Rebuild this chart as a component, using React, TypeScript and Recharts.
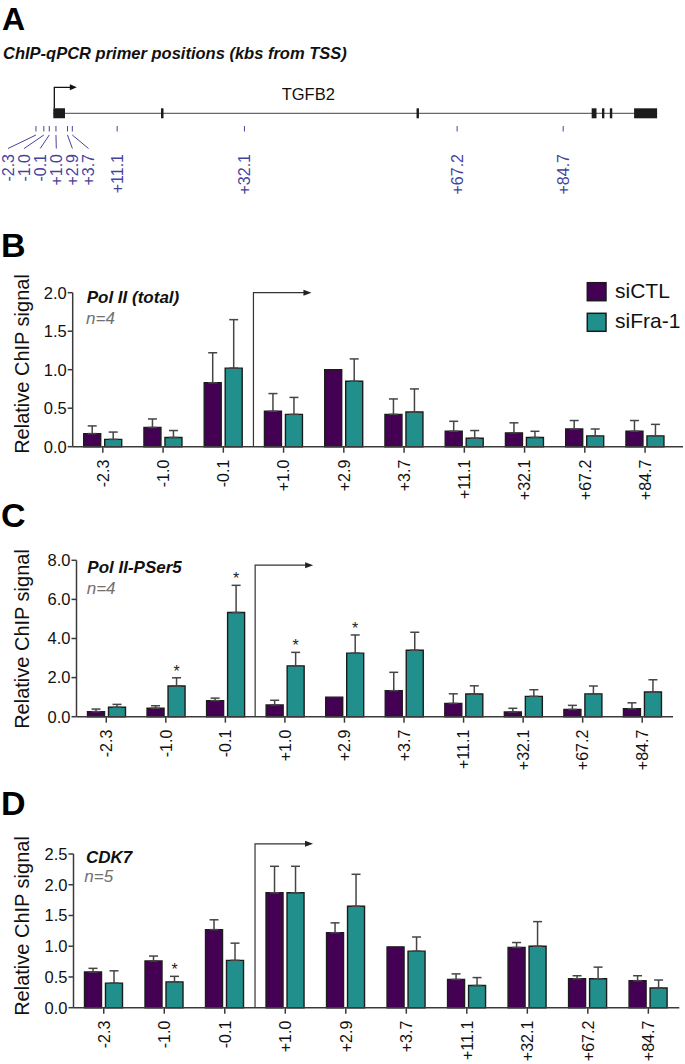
import React from 'react';
import {
  BarChart,
  Bar,
  XAxis,
  YAxis,
  ErrorBar,
  ReferenceLine,
  ReferenceArea,
  ScatterChart,
  Scatter,
  Rectangle,
} from 'recharts';

// ---------- data ----------
const CATEGORIES = ['-2.3', '-1.0', '-0.1', '+1.0', '+2.9', '+3.7', '+11.1', '+32.1', '+67.2', '+84.7'];
const SERIES_NAMES = ['siCTL', 'siFra-1'];
const SERIES_COLORS = ['#440154', '#21908d'];
const TSS_CATEGORY = '+1.0';

// Panel B: Pol II (total), n=4
const POL2_CTL = [0.17, 0.25, 0.83, 0.46, 1.0, 0.42, 0.2, 0.18, 0.23, 0.2];
const POL2_CTL_SD = [0.1, 0.11, 0.39, 0.23, null, 0.2, 0.13, 0.13, 0.11, 0.14];
const POL2_FRA = [0.095, 0.12, 1.02, 0.42, 0.85, 0.45, 0.11, 0.12, 0.14, 0.14];
const POL2_FRA_SD = [0.095, 0.09, 0.63, 0.22, 0.29, 0.3, 0.1, 0.08, 0.09, 0.15];
const POL2_SIG = [false, false, false, false, false, false, false, false, false, false];
const POL2_TICKS = [0, 0.5, 1.0, 1.5, 2.0];

// Panel C: Pol II-PSer5, n=4
const PSER5_CTL = [0.26, 0.43, 0.82, 0.6, 1.0, 1.33, 0.68, 0.24, 0.37, 0.41];
const PSER5_CTL_SD = [0.13, 0.13, 0.13, 0.24, null, 0.94, 0.49, 0.19, 0.21, 0.3];
const PSER5_FRA = [0.48, 1.57, 5.33, 2.6, 3.25, 3.4, 1.16, 1.04, 1.17, 1.26];
const PSER5_FRA_SD = [0.15, 0.42, 1.39, 0.69, 0.93, 0.92, 0.42, 0.34, 0.4, 0.63];
const PSER5_SIG = [false, true, true, true, true, false, false, false, false, false];
const PSER5_TICKS = [0, 2, 4, 6, 8];

// Panel D: CDK7, n=5
const CDK7_CTL = [0.58, 0.76, 1.27, 1.87, 1.22, 0.99, 0.46, 0.98, 0.47, 0.44];
const CDK7_CTL_SD = [0.06, 0.08, 0.16, 0.43, 0.16, null, 0.09, 0.08, 0.05, 0.08];
const CDK7_FRA = [0.4, 0.42, 0.77, 1.87, 1.65, 0.92, 0.36, 1.0, 0.47, 0.32];
const CDK7_FRA_SD = [0.2, 0.09, 0.28, 0.43, 0.52, 0.23, 0.13, 0.4, 0.19, 0.13];
const CDK7_SIG = [false, true, false, false, false, false, false, false, false, false];
const CDK7_TICKS = [0, 0.5, 1.0, 1.5, 2.0, 2.5];

// Panel A: gene diagram (kb from TSS)
const GENE_NAME = 'TGFB2';
const PRIMER_KB = [-2.3, -1.0, -0.1, 1.0, 2.9, 3.7, 11.1, 32.1, 67.2, 84.7];
const EXON_STARTS_KB = [0.56, 18.33, 60.5, 89.4, 91.1, 92.4, 96.4];
const EXON_ENDS_KB = [2.49, 18.75, 60.9, 90.2, 91.5, 92.8, 100.2];
const TSS_KB = 0.73;

// ---------- styles ----------
const FONT = '"Liberation Sans", Arial, Helvetica, sans-serif';
const AXIS_COLOR = '#3a3a3a';
const BAR_STROKE = '#1c1c1c';
const ERR_COLOR = '#454545';
const PRIMER_COLOR = '#45449c';
const W = 685;

// ---------- panel A ----------
const GENE_ROW = 113.3;
const EXON_HALF = 5;
const PRIMER_ROW = 126;

const PrimerMark = (props: any) => {
  const { cx, cy, payload } = props;
  if (cx == null || cy == null) return null;
  const clustered = payload.slot != null;
  const lx = clustered ? 8 + 16.1 * payload.slot : cx;
  const ly = cy + 28;
  return (
    <g>
      <line x1={cx} y1={cy} x2={cx} y2={cy + 5.5} stroke={PRIMER_COLOR} strokeWidth={1} />
      {clustered && <line x1={cx} y1={cy + 9} x2={lx} y2={cy + 22.5} stroke={PRIMER_COLOR} strokeWidth={1} />}
      <text
        x={lx}
        y={ly}
        transform={`rotate(-90 ${lx} ${ly})`}
        textAnchor="end"
        dy="0.36em"
        fontSize={16}
        fill={PRIMER_COLOR}
      >
        {payload.label}
      </text>
    </g>
  );
};

const GeneTss = (props: any) => {
  const { x1, y1, y2 } = props;
  const top = Math.min(y1, y2);
  const bottom = Math.max(y1, y2);
  const len = 22.5;
  return (
    <g>
      <path d={`M${x1},${bottom}V${top}H${x1 + len - 6}`} fill="none" stroke="#111" strokeWidth={1.3} />
      <path d={`M${x1 + len},${top}l-7,-3v6z`} fill="#111" />
    </g>
  );
};

function GenePanel() {
  const pxPerKb = 6.06;
  const tssPx = 49.9;
  const d0 = -tssPx / pxPerKb;
  const d1 = d0 + W / pxPerKb;
  let slot = 0;
  const points = PRIMER_KB.map((kb, i) => ({
    kb,
    row: PRIMER_ROW,
    label: CATEGORIES[i],
    slot: Math.abs(kb) < 5 ? slot++ : null,
  }));
  return (
    <div style={{ position: 'absolute', left: 0, top: 0 }}>
      <ScatterChart width={W} height={205} margin={{ top: 0, right: 0, bottom: 0, left: 0 }}>
        <XAxis type="number" dataKey="kb" domain={[d0, d1]} allowDataOverflow hide />
        <YAxis type="number" dataKey="row" domain={[0, 205]} reversed allowDataOverflow hide />
        <ReferenceArea
          x1={EXON_STARTS_KB[0]}
          x2={EXON_ENDS_KB[EXON_ENDS_KB.length - 1]}
          y1={GENE_ROW - 0.65}
          y2={GENE_ROW + 0.65}
          fill="#6a6a6a"
          fillOpacity={1}
          stroke="none"
          ifOverflow="visible"
        />
        {EXON_STARTS_KB.map((s, i) => (
          <ReferenceArea
            key={i}
            x1={s}
            x2={EXON_ENDS_KB[i]}
            y1={GENE_ROW - EXON_HALF}
            y2={GENE_ROW + EXON_HALF}
            fill="#1c1c1c"
            fillOpacity={1}
            stroke="none"
            ifOverflow="visible"
          />
        ))}
        <ReferenceLine
          segment={[
            { x: TSS_KB, y: GENE_ROW - EXON_HALF },
            { x: TSS_KB, y: GENE_ROW - 26 },
          ]}
          ifOverflow="visible"
          shape={GeneTss}
        />
        <Scatter data={points} dataKey="row" shape={PrimerMark} isAnimationActive={false} />
      </ScatterChart>
    </div>
  );
}

// ---------- bar panels ----------
const XTick = (props: any) => {
  const { x, y, payload } = props;
  return (
    <text
      x={x}
      y={y}
      transform={`rotate(-90 ${x} ${y})`}
      textAnchor="end"
      dy="0.36em"
      fontSize={16}
      fill="#111"
    >
      {payload.value}
    </text>
  );
};

const TssArrow = (props: any) => {
  const { x1, y1, y2 } = props;
  const top = Math.min(y1, y2);
  const bottom = Math.max(y1, y2);
  const len = 58;
  return (
    <g>
      <path d={`M${x1},${bottom}V${top}H${x1 + len - 6}`} fill="none" stroke="#333" strokeWidth={1.2} />
      <path d={`M${x1 + len},${top}l-8,-3v6z`} fill="#222" />
    </g>
  );
};

const StarBar = (props: any) => {
  const { x, y, width, height, payload } = props;
  let star = null;
  if (payload && payload.sig && payload.fra > 0 && height > 0) {
    const perUnit = height / payload.fra;
    const errTop = y - (payload.fraSd || 0) * perUnit;
    star = (
      <text x={x + width / 2} y={errTop - 1} textAnchor="middle" fontSize={16} fill="#222">
        *
      </text>
    );
  }
  return (
    <g>
      <Rectangle {...props} />
      {star}
    </g>
  );
};

type PanelProps = {
  top: number;
  height: number;
  plotTop: number;
  plotBottom: number;
  yAxisX: number;
  bandEnd: number;
  axisEnd: number;
  yMax: number;
  yTicks: number[];
  ctl: number[];
  ctlSd: (number | null)[];
  fra: number[];
  fraSd: (number | null)[];
  sig: boolean[];
  arrowTop: number;
};

function ChipPanel(p: PanelProps) {
  const data = CATEGORIES.map((c, i) => ({
    pos: c,
    ctl: p.ctl[i],
    ctlErr: p.ctlSd[i] == null ? null : [0, p.ctlSd[i]],
    fra: p.fra[i],
    fraErr: p.fraSd[i] == null ? null : [0, p.fraSd[i]],
    fraSd: p.fraSd[i],
    sig: p.sig[i],
  }));
  return (
    <div style={{ position: 'absolute', left: 0, top: p.top }}>
      <BarChart
        width={W}
        height={p.height}
        data={data}
        margin={{ top: p.plotTop - p.top, right: W - p.axisEnd, bottom: 0, left: 0 }}
        barGap={4}
        barSize={17}
      >
        <XAxis
          dataKey="pos"
          type="category"
          interval={0}
          height={p.top + p.height - p.plotBottom}
          padding={{ left: 0, right: p.axisEnd - p.bandEnd }}
          tick={(tp: any) => <XTick {...tp} />}
          tickSize={6}
          tickMargin={7}
          axisLine={{ stroke: AXIS_COLOR, strokeWidth: 1.5 }}
          tickLine={{ stroke: AXIS_COLOR, strokeWidth: 1.5 }}
        />
        <YAxis
          type="number"
          width={p.yAxisX}
          domain={[0, p.yMax]}
          ticks={p.yTicks}
          interval={0}
          tickFormatter={(v: number) => v.toFixed(1)}
          tickSize={5}
          tickMargin={1}
          tick={{ fontSize: 16.5, fill: '#111' }}
          axisLine={{ stroke: AXIS_COLOR, strokeWidth: 1.5 }}
          tickLine={{ stroke: AXIS_COLOR, strokeWidth: 1.5 }}
        />
        <Bar
          dataKey="ctl"
          name={SERIES_NAMES[0]}
          fill={SERIES_COLORS[0]}
          stroke={BAR_STROKE}
          strokeWidth={1.4}
          isAnimationActive={false}
        >
          <ErrorBar dataKey="ctlErr" direction="y" width={4.5} stroke={ERR_COLOR} strokeWidth={1.5} />
        </Bar>
        <Bar
          dataKey="fra"
          name={SERIES_NAMES[1]}
          fill={SERIES_COLORS[1]}
          stroke={BAR_STROKE}
          strokeWidth={1.4}
          isAnimationActive={false}
          shape={StarBar}
        >
          <ErrorBar dataKey="fraErr" direction="y" width={4.5} stroke={ERR_COLOR} strokeWidth={1.5} />
        </Bar>
        <ReferenceLine
          segment={[
            { x: TSS_CATEGORY, y: 0 },
            { x: TSS_CATEGORY, y: p.arrowTop },
          ]}
          position="start"
          ifOverflow="visible"
          shape={TssArrow}
        />
      </BarChart>
    </div>
  );
}

function Overlay() {
  const letter = { fontSize: 34, fontWeight: 700, fill: '#000' } as const;
  const yLabel = (cy: number) => (
    <text
      x={29}
      y={cy}
      transform={`rotate(-90 29 ${cy})`}
      textAnchor="middle"
      fontSize={20}
      fill="#111"
    >
      Relative ChIP signal
    </text>
  );
  const titleStyle = { fontSize: 17, fontWeight: 700, fontStyle: 'italic', fill: '#111' } as const;
  const nStyle = { fontSize: 17, fontStyle: 'italic', fill: '#707070' } as const;
  return (
    <svg
      width={W}
      height={1064}
      style={{ position: 'absolute', left: 0, top: 0, pointerEvents: 'none' }}
    >
      <text x={2} y={30} fontSize={32} fontWeight={700} fill="#000">A</text>
      <text x={3} y={59.3} fontSize={16.5} fontWeight={700} fontStyle="italic" fill="#111">
        ChIP-qPCR primer positions (kbs from TSS)
      </text>
      <text x={281.7} y={100} fontSize={16.5} fill="#111">{GENE_NAME}</text>

      <text x={1} y={256.7} {...letter}>B</text>
      {yLabel(364)}
      <text x={86.7} y={302.7} {...titleStyle}>Pol II (total)</text>
      <text x={86} y={324} {...nStyle}>n=4</text>
      {SERIES_NAMES.map((name, i) => (
        <g key={name}>
          <rect
            x={587.3}
            y={282.7 + 30.6 * i}
            width={18.7}
            height={18}
            fill={SERIES_COLORS[i]}
            stroke="#1a1a1a"
            strokeWidth={1.5}
          />
          <text x={615} y={298.3 + 30 * i} fontSize={21} fill="#111">{name}</text>
        </g>
      ))}

      <text x={1} y={526.7} {...letter}>C</text>
      {yLabel(639)}
      <text x={87.3} y={572.5} {...titleStyle}>Pol II-PSer5</text>
      <text x={86.7} y={593.5} {...nStyle}>n=4</text>

      <text x={1} y={815} {...letter}>D</text>
      {yLabel(926)}
      <text x={86} y={862.7} {...titleStyle}>CDK7</text>
      <text x={84.3} y={881.7} {...nStyle}>n=5</text>
    </svg>
  );
}

export default function App() {
  return (
    <div
      style={{
        position: 'absolute',
        left: 0,
        top: 0,
        width: W,
        height: 1064,
        background: '#fff',
        fontFamily: FONT,
        overflow: 'hidden',
      }}
    >
      <GenePanel />
      <ChipPanel
        top={270}
        height={250}
        plotTop={292.7}
        plotBottom={446.7}
        yAxisX={72.7}
        bandEnd={675.2}
        axisEnd={683}
        yMax={2}
        yTicks={POL2_TICKS}
        ctl={POL2_CTL}
        ctlSd={POL2_CTL_SD}
        fra={POL2_FRA}
        fraSd={POL2_FRA_SD}
        sig={POL2_SIG}
        arrowTop={2.0}
      />
      <ChipPanel
        top={540}
        height={250}
        plotTop={560.3}
        plotBottom={716.7}
        yAxisX={76.5}
        bandEnd={672}
        axisEnd={673}
        yMax={8}
        yTicks={PSER5_TICKS}
        ctl={PSER5_CTL}
        ctlSd={PSER5_CTL_SD}
        fra={PSER5_FRA}
        fraSd={PSER5_FRA_SD}
        sig={PSER5_SIG}
        arrowTop={7.75}
      />
      <ChipPanel
        top={834}
        height={230}
        plotTop={854}
        plotBottom={1007.7}
        yAxisX={73.5}
        bandEnd={678.6}
        axisEnd={679.3}
        yMax={2.5}
        yTicks={CDK7_TICKS}
        ctl={CDK7_CTL}
        ctlSd={CDK7_CTL_SD}
        fra={CDK7_FRA}
        fraSd={CDK7_FRA_SD}
        sig={CDK7_SIG}
        arrowTop={2.666}
      />
      <Overlay />
    </div>
  );
}
